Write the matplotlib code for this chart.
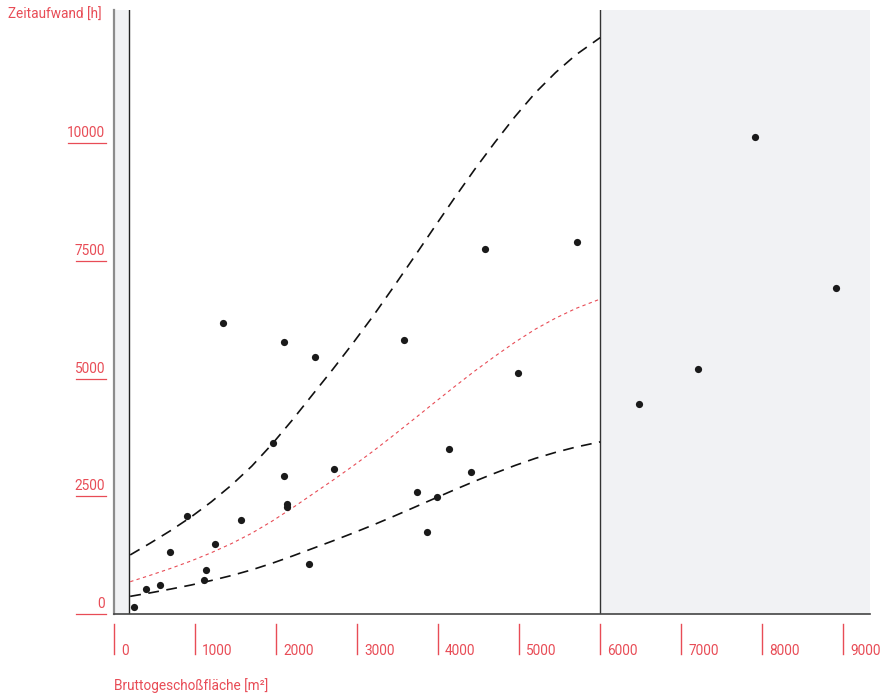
import numpy as np
import matplotlib
matplotlib.use("Agg")
from matplotlib import pyplot as plt
from matplotlib import transforms

# floor area [m2] and time spent [h] per project
area = [247, 391, 573, 696, 901, 1107, 1141, 1252, 1346, 1568, 1963, 2104, 2095,
        2141, 2132, 2412, 2484, 2709, 3580, 3741, 3857, 3988, 4132, 4400, 4577,
        4984, 5709, 6481, 7202, 7910, 8906]
hours = [155, 525, 616, 1317, 2082, 722, 928, 1487, 6189, 1991, 3627, 5772, 2931,
         2337, 2263, 1069, 5460, 3074, 5815, 2586, 1736, 2479, 3499, 3010, 7748,
         5114, 7903, 4468, 5211, 10140, 6932]

# fitted curve and its upper / lower band
fit_x = [200, 450, 700, 950, 1200, 1450, 1700, 1950, 2200, 2450, 2700, 2950,
         3200, 3450, 3700, 3950, 4200, 4450, 4700, 4950, 5200, 5450, 5700, 6000]
fit_mid = [686, 824, 969, 1126, 1301, 1496, 1716, 1971, 2251, 2546, 2840, 3145,
           3462, 3796, 4138, 4484, 4826, 5159, 5474, 5775, 6050, 6285, 6490, 6690]
fit_high = [1255, 1508, 1773, 2060, 2381, 2738, 3140, 3607, 4119, 4659, 5197, 5755,
            6335, 6947, 7572, 8206, 8832, 9441, 10017, 10568, 11072, 11502, 11877, 12243]
fit_low = [375, 450, 530, 615, 711, 817, 938, 1077, 1230, 1391, 1552, 1719,
           1892, 2074, 2261, 2450, 2637, 2819, 2991, 3156, 3306, 3434, 3546, 3656]

x_ticks = [0, 1000, 2000, 3000, 4000, 5000, 6000, 7000, 8000, 9000]
y_ticks = [0, 2500, 5000, 7500, 10000]

red = "#e84c56"
font = "Roboto"
fsize = 9.8
plt.rcParams["font.family"] = [font, "DejaVu Sans"]

W, H = 889, 696
fig = plt.figure(figsize = (W / 100, H / 100), dpi = 100)
ax = fig.add_axes([114 / W, 82 / H, (870 - 114) / W, (614 - 10) / H])
ax.set_xlim(0, 9330)
ax.set_ylim(0, 12830)

# shaded ranges outside the fit
ax.axvspan(0, 190, color = "#f1f2f4", lw = 0, zorder = 0)
ax.axvspan(6000, 9330, color = "#f1f2f4", lw = 0, zorder = 0)
ax.axvline(190, color = "#222222", lw = 1.0, zorder = 1)
ax.axvline(6000, color = "#333333", lw = 1.0, zorder = 1)

ax.plot(fit_x, fit_high, color = "#111111", lw = 1.2, dashes = (6.5, 4.5), zorder = 2)
ax.plot(fit_x, fit_low, color = "#111111", lw = 1.2, dashes = (6.5, 4.5), zorder = 2)
ax.plot(fit_x, fit_mid, color = red, lw = 0.8, dashes = (3, 3), zorder = 2)
ax.scatter(area, hours, s = 27, color = "#1a1a1a", lw = 0, zorder = 3)

for s in ["top", "right"]:
	ax.spines[s].set_visible(False)
ax.spines["left"].set_color("#8c8c8c")
ax.spines["left"].set_linewidth(1.6)
ax.spines["bottom"].set_color("#444444")
ax.spines["bottom"].set_linewidth(1.2)
ax.set_xticks([])
ax.set_yticks([])

# y ticks: label with an underline, left of the axis
ty = transforms.blended_transform_factory(fig.transFigure, ax.transData)
for v in y_ticks:
	lab = str(v)
	x0 = 68 if len(lab) > 4 else 76
	ax.plot([x0 / W, 106 / W], [v, v], color = red, lw = 0.9, transform = ty, clip_on = False)
	ax.annotate(lab, xy = (105 / W, v), xycoords = ty, xytext = (0, 6),
		textcoords = "offset pixels", ha = "right", va = "baseline", color = red, fontsize = fsize)

# x ticks: short vertical bars below the axis, label to the right
tx = transforms.blended_transform_factory(ax.transData, fig.transFigure)
for v in x_ticks:
	ax.plot([v, v], [(H - 654) / H, (H - 624) / H], color = red, lw = 1.0, transform = tx, clip_on = False)
	ax.annotate(str(v), xy = (v, (H - 655) / H), xycoords = tx, xytext = (7, 0),
		textcoords = "offset pixels", ha = "left", va = "baseline", color = red, fontsize = fsize)

fig.text(8 / W, (H - 15) / H, "Zeitaufwand [h]", color = red, fontsize = fsize, ha = "left", va = "center")
fig.text(114 / W, (H - 686) / H, "Bruttogeschoßfläche [m²]", color = red, fontsize = fsize, ha = "left", va = "center")

fig.savefig("out.png", dpi = 100)
